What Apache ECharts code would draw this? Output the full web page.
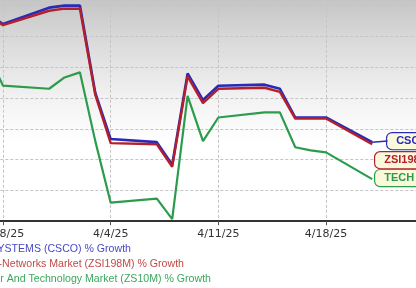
<!DOCTYPE html>
<html><head><meta charset="utf-8">
<script src="https://cdn.jsdelivr.net/npm/echarts@6/dist/echarts.min.js"></script>
<style>html,body{margin:0;padding:0;background:#fff;}#c{width:416px;height:288px;}</style>
</head><body><div id="c"></div>
<script>
// ---- data (percent growth) ----
const dates = ['2025-03-27','2025-03-28','2025-03-31','2025-04-01','2025-04-02','2025-04-03','2025-04-04','2025-04-07','2025-04-08','2025-04-09','2025-04-10','2025-04-11','2025-04-14','2025-04-15','2025-04-16','2025-04-17','2025-04-18','2025-04-21'];
const cscoValues = [8.2, 7.2, 8.8, 9.0, 9.0, 0.5, -4.0, -4.3, -6.5, 2.4, -0.2, 1.2, 1.3, 0.9, -1.9, -1.9, -1.9, -4.3];
const industryValues = [8.0, 7.1, 8.5, 8.7, 8.7, 0.3, -4.4, -4.5, -6.7, 2.1, -0.5, 0.9, 1.0, 0.6, -2.0, -2.0, -2.0, -4.5];
const sectorValues = [4.4, 1.2, 0.9, 2.0, 2.5, -4.2, -10.2, -9.8, -11.8, 0.2, -4.2, -1.9, -1.4, -1.4, -4.8, -5.1, -5.3, -7.9];
const tickDates = ['2025-03-28','2025-04-04','2025-04-11','2025-04-18'];
const tickLabels = ['3/28/25','4/4/25','4/11/25','4/18/25'];
const seriesNames = ['CISCO SYSTEMS (CSCO) % Growth','Computer-Networks Market (ZSI198M) % Growth','Computer And Technology Market (ZS10M) % Growth'];
const endTags = ['CSCO','ZSI198M','TECH SECTOR'];

// ---- helpers ----
const base = Date.UTC(2025,2,28);
function dayNum(s){const p=s.split('-');return Math.round((Date.UTC(+p[0],+p[1]-1,+p[2])-base)/86400000);}
const xs = dates.map(dayNum);
const tickX = tickDates.map(dayNum);
const pair = vals => xs.map((x,i)=>[x,vals[i]]);

const colors = ['#2a2ab8','#b3202b','#2b9c4c'];
const textColors = ['#4848c4','#c04a48','#3aa85c'];
const font = 'Liberation Sans, Arial, sans-serif';

function endLabel(i, offset){
  return {show:true, formatter:endTags[i], distance:3, offset:offset,
    color:colors[i], fontWeight:'bold', fontSize:11, fontFamily:font,
    backgroundColor:'#fbf9dc', borderColor:colors[i], borderWidth:1.2, borderRadius:5,
    padding:[3,5,2,9]};
}

const chart = echarts.init(document.getElementById('c'), null, {renderer:'canvas'});
chart.setOption({
  animation:false,
  backgroundColor:'#ffffff',
  grid:{left:-104.66, right:-17.7, top:-25.2, bottom:66.8, containLabel:false, outerBoundsMode:'none',
    show:true, borderWidth:0,
    backgroundColor:{type:'linear',x:0,y:0,x2:0,y2:1,colorStops:[
      {offset:0,color:'#b8b8b8'},{offset:0.25,color:'#d8d8d8'},{offset:0.5,color:'#f2f2f2'},{offset:0.68,color:'#ffffff'},{offset:1,color:'#ffffff'}]}},
  xAxis:{type:'value', min:-7, max:28, interval:7,
    axisLine:{show:true,onZero:false,lineStyle:{color:'#333',width:2}},
    axisTick:{show:true,length:4,lineStyle:{color:'#555'}},
    axisLabel:{show:true,margin:7,color:'#333',fontSize:11,fontFamily:'DejaVu Sans, Verdana, sans-serif',
      formatter:v=>{const k=tickX.indexOf(v);return k>=0?tickLabels[k]:'';}},
    splitLine:{show:true,lineStyle:{color:'#c4c4c4',type:[3,2],width:1}}},
  yAxis:{type:'value', min:-12, max:12, interval:3, position:'right',
    axisLine:{show:false}, axisTick:{show:false}, axisLabel:{show:false},
    splitLine:{show:true,lineStyle:{color:'#c4c4c4',type:[3,2],width:1}}},
  series:[
    {name:seriesNames[0], type:'line', data:pair(cscoValues), showSymbol:false, clip:true,
      lineStyle:{color:colors[0],width:2.6}, itemStyle:{color:colors[0]},
      endLabel:endLabel(0,[12,-1]),
      markLine:{silent:true,symbol:'none',label:{show:false},lineStyle:{color:colors[0],width:1.5,type:'solid'},
        data:[[{coord:[xs[xs.length-1],cscoValues[cscoValues.length-1]]},{coord:[xs[xs.length-1]+1,cscoValues[cscoValues.length-1]+0.1]}]]}},
    {name:seriesNames[1], type:'line', data:pair(industryValues), showSymbol:false, clip:true,
      lineStyle:{color:colors[1],width:2.4}, itemStyle:{color:colors[1]},
      endLabel:endLabel(1,[0,16])},
    {name:seriesNames[2], type:'line', data:pair(sectorValues), showSymbol:false, clip:true,
      lineStyle:{color:colors[2],width:2.2}, itemStyle:{color:colors[2]},
      endLabel:endLabel(2,[0,-1])}
  ],
  graphic:[
    {type:'text', right:416-131, top:244, style:{text:seriesNames[0], fill:textColors[0], font:'10.6px '+font, textAlign:'right'}},
    {type:'text', right:416-184, top:259, style:{text:seriesNames[1], fill:textColors[1], font:'10.6px '+font, textAlign:'right'}},
    {type:'text', right:416-211, top:274, style:{text:seriesNames[2], fill:textColors[2], font:'10.6px '+font, textAlign:'right'}}
  ]
});
</script></body></html>
